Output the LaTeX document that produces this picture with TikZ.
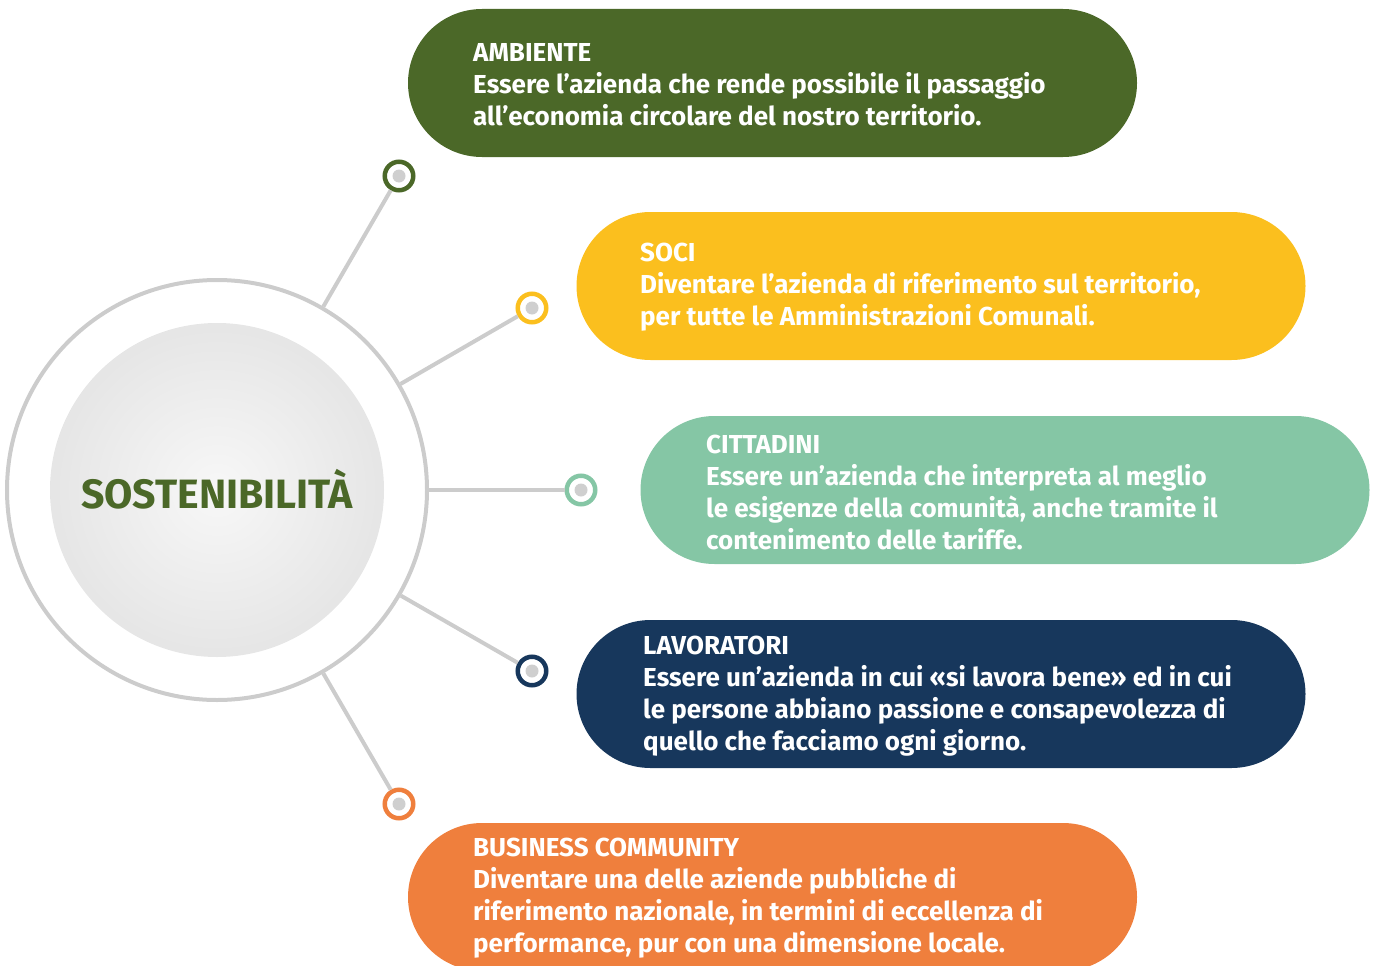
\documentclass[tikz,border=0pt]{standalone}
\usepackage{fontspec}
\newfontfamily\pillfont{Fira Sans}
\usetikzlibrary{shapes.misc}
\definecolor{cgreen}{HTML}{4B6828}
\definecolor{cyellow}{HTML}{FBBF1E}
\definecolor{cmint}{HTML}{85C6A5}
\definecolor{cnavy}{HTML}{17375C}
\definecolor{corange}{HTML}{EF7F3D}
\definecolor{cline}{HTML}{CCCCCC}
\definecolor{cdot}{HTML}{CFCFCF}
\tikzset{
  pill/.style={rounded rectangle, minimum width=729pt, minimum height=148pt, inner sep=0pt, draw=none},
  pilltext/.style={anchor=west, align=left, text=white, inner sep=0pt,
    font=\pillfont\bfseries\fontsize{26}{32}\selectfont},
  marker/.style={circle, draw=#1, line width=4.5pt, fill=white, minimum size=28.5pt, inner sep=0pt},
  dot/.style={circle, fill=cdot, minimum size=13pt, inner sep=0pt},
  conn/.style={draw=cline, line width=4pt},
}
\begin{document}
\begin{tikzpicture}[x=1pt,y=-1pt]
\useasboundingbox (0,0) rectangle (1381,966);
% central circle
\node[circle, draw=cline, line width=4pt, minimum size=420pt, inner sep=0pt] (ring) at (217,490) {};
\shade[inner color=black!3, outer color=black!10] (217,490) circle (167);
\node[text=cgreen, font=\pillfont\bfseries\fontsize{41}{44}\selectfont, inner sep=0pt] (title) at (217,489) {SOSTENIBILITÀ};
% markers
\node[marker=cgreen] (m1) at (399,176) {};
\node[marker=cyellow] (m2) at (532,308) {};
\node[marker=cmint] (m3) at (581,490) {};
\node[marker=cnavy] (m4) at (532,671) {};
\node[marker=corange] (m5) at (399,804) {};
\foreach \i in {1,...,5}{
  \draw[conn] (ring) -- (m\i);
  \node[dot] (d\i) at (m\i) {};
}
% pills
\node[pill, fill=cgreen] (p1) at (772.5,83) {};
\node[pill, fill=cyellow] (p2) at (941,286) {};
\node[pill, fill=cmint] (p3) at (1005,490) {};
\node[pill, fill=cnavy] (p4) at (941,694) {};
\node[pill, fill=corange] (p5) at (772.5,897) {};
\node[pilltext] (t1) at (473,85) {AMBIENTE\\Essere l’azienda che rende possibile il passaggio\\all’economia circolare del nostro territorio.};
\node[pilltext] (t2) at (640,287) {SOCI\\Diventare l’azienda di riferimento sul territorio,\\per tutte le Amministrazioni Comunali.};
\node[pilltext] (t3) at (706,492) {CITTADINI\\Essere un’azienda che interpreta al meglio\\le esigenze della comunità, anche tramite il\\contenimento delle tariffe.};
\node[pilltext] (t4) at (643,696) {LAVORATORI\\Essere un’azienda in cui «si lavora bene» ed in cui\\le persone abbiano passione e consapevolezza di\\quello che facciamo ogni giorno.};
\node[pilltext] (t5) at (473,898) {BUSINESS COMMUNITY\\Diventare una delle aziende pubbliche di\\riferimento nazionale, in termini di eccellenza di\\performance, pur con una dimensione locale.};
\end{tikzpicture}
\end{document}
